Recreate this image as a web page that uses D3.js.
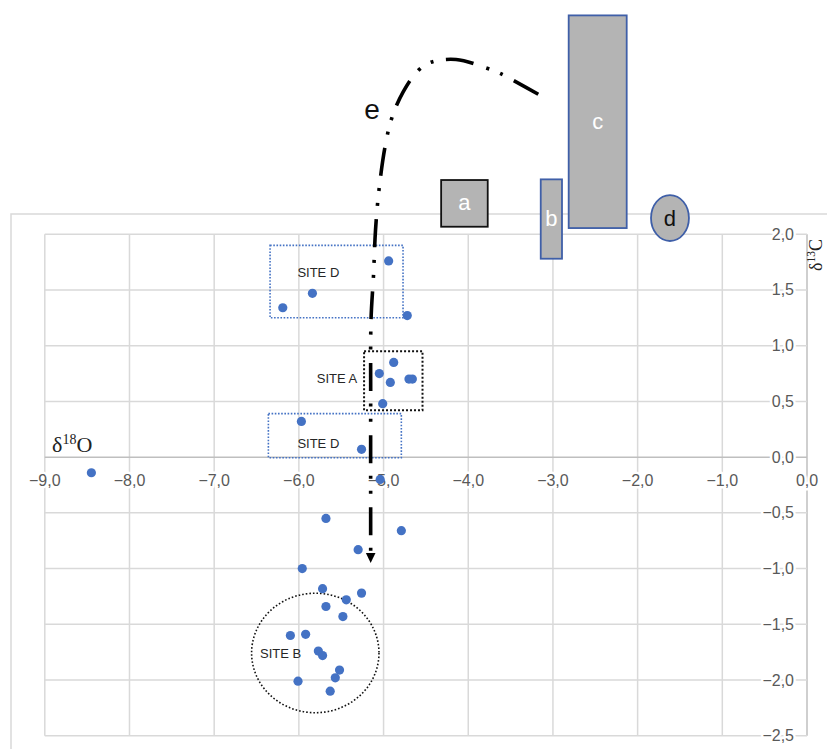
<!DOCTYPE html>
<html>
<head>
<meta charset="utf-8">
<script src="https://cdn.jsdelivr.net/npm/d3@7"></script>
<style>
  html, body { margin: 0; padding: 0; background: #fff; }
  svg { display: block; }
</style>
</head>
<body>
<svg id="chart" width="827" height="749"></svg>
<script>
// ---- data ----
const d18O = [-4.94, -5.84, -6.19, -4.72, -4.88, -5.05, -4.92, -4.70, -4.66, -5.01, -5.97, -5.26,
              -8.45, -5.04, -5.68, -4.79, -5.30, -5.96, -5.72, -5.26, -5.44, -5.68, -5.48,
              -6.10, -5.92, -5.77, -5.72, -5.52, -5.57, -6.01, -5.63];
const d13C = [1.76, 1.47, 1.34, 1.27, 0.85, 0.75, 0.67, 0.70, 0.70, 0.48, 0.32, 0.07,
              -0.14, -0.20, -0.55, -0.66, -0.83, -1.00, -1.18, -1.22, -1.28, -1.34, -1.43,
              -1.60, -1.59, -1.74, -1.78, -1.91, -1.98, -2.01, -2.10];
const xTicks = [-9, -8, -7, -6, -5, -4, -3, -2, -1, 0];
const yTicks = [-2.5, -2.0, -1.5, -1.0, -0.5, 0.0, 0.5, 1.0, 1.5, 2.0];

// site groupings (in data units)
const siteBoxes = [
  {label: "SITE D", x0: -6.34, x1: -4.77, y0: 1.25, y1: 1.90, lx: -5.77, ly: 1.66, kind: "blue"},
  {label: "SITE A", x0: -5.23, x1: -4.54, y0: 0.42, y1: 0.95, lx: -5.55, ly: 0.71, kind: "black"},
  {label: "SITE D", x0: -6.36, x1: -4.79, y0: -0.005, y1: 0.39, lx: -5.77, ly: 0.125, kind: "blue"}
];
const siteB = {label: "SITE B", cx: -5.806, cy: -1.757, rx: 0.752, ry: 0.536, lx: -6.215, ly: -1.76};

// reference ranges a-d (data units)
const refRects = [
  {label: "a", x0: -4.32, x1: -3.77, y0: 2.067, y1: 2.486, border: "black"},
  {label: "b", x0: -3.144, x1: -2.893, y0: 1.780, y1: 2.492, border: "blue"},
  {label: "c", x0: -2.814, x1: -2.129, y0: 2.055, y1: 3.963, border: "blue"}
];
const refEllipse = {label: "d", cx: -1.618, cy: 2.145, rx: 0.224, ry: 0.206};

// trend e (data units)
const trendX = [-3.173, -3.625, -3.794, -4.144, -4.443, -4.590, -4.770, -4.904, -4.983, -5.054, -5.095, -5.119, -5.148, -5.152, -5.152];
const trendY = [3.255, 3.443, 3.493, 3.567, 3.542, 3.470, 3.275, 3.039, 2.782, 2.396, 2.037, 1.625, 1.230, 0.512, -0.851];
const trendLabel = {label: "e", x: -5.136, y: 3.113};

// ---- scales ----
const svg = d3.select("#chart");
const x = d3.scaleLinear().domain([-9, 0]).range([44.8, 807]);
const y = d3.scaleLinear().domain([-2.5, 2]).range([735.8, 234.2]);

const fmt = v => d3.format(".1f")(v).replace(".", ",").replace("-", "\u2212");
const grid = "#d9d9d9";
const blue = "#4472C4";
const edge = "#3f5fa8";
const fillGray = "#b4b4b4";

// outer chart border
svg.append("rect").attr("x", 11).attr("y", 214).attr("width", 900).attr("height", 600)
  .attr("fill", "none").attr("stroke", grid).attr("stroke-width", 1.5);

// gridlines
svg.append("g").selectAll("line").data(xTicks).join("line")
  .attr("x1", d => x(d)).attr("x2", d => x(d))
  .attr("y1", y(2)).attr("y2", y(-2.5))
  .attr("stroke", d => d === 0 ? "#bfbfbf" : grid).attr("stroke-width", 1.5);
svg.append("g").selectAll("line").data(yTicks).join("line")
  .attr("x1", x(-9)).attr("x2", x(0))
  .attr("y1", d => y(d)).attr("y2", d => y(d))
  .attr("stroke", d => d === 0 ? "#bfbfbf" : grid).attr("stroke-width", 1.5);

// tick labels
const labelStyle = sel => sel
  .attr("font-family", "'Liberation Sans', Arial, sans-serif")
  .attr("font-size", 16).attr("fill", "#595959")
  .attr("stroke", "#fff").attr("stroke-width", 5).attr("paint-order", "stroke")
  .attr("stroke-linejoin", "round");
svg.append("g").selectAll("text").data(xTicks).join("text")
  .attr("x", d => x(d)).attr("y", y(0) + 28.5)
  .attr("text-anchor", "middle").text(fmt).call(labelStyle);
svg.append("g").selectAll("text").data(yTicks).join("text")
  .attr("x", x(0) - 13).attr("y", d => y(d) + 5.5)
  .attr("text-anchor", "end").text(fmt).call(labelStyle);

// axis titles
const tx = svg.append("text").attr("x", 52).attr("y", 452)
  .attr("font-family", "'Liberation Serif', 'Times New Roman', serif").attr("font-size", 22).attr("fill", "#222");
tx.append("tspan").text("δ");
tx.append("tspan").attr("font-size", 14).attr("dy", -8).text("18");
tx.append("tspan").attr("dy", 8).text("O");
const ty = svg.append("text").attr("transform", "translate(822,271) rotate(-90)")
  .attr("font-family", "'Liberation Serif', 'Times New Roman', serif").attr("font-size", 18).attr("fill", "#222");
ty.append("tspan").text("δ");
ty.append("tspan").attr("font-size", 11.5).attr("dy", -7).text("13");
ty.append("tspan").attr("dy", 7).text("C");

// site boxes
const siteFont = "'Liberation Sans', Arial, sans-serif";
siteBoxes.forEach(b => {
  svg.append("rect")
    .attr("x", x(b.x0)).attr("y", y(b.y1))
    .attr("width", x(b.x1) - x(b.x0)).attr("height", y(b.y0) - y(b.y1))
    .attr("fill", "none")
    .attr("stroke", b.kind === "blue" ? blue : "#111")
    .attr("stroke-width", b.kind === "blue" ? 1.6 : 2)
    .attr("stroke-dasharray", b.kind === "blue" ? "1.6,1.6" : "2,2");
  svg.append("text").attr("x", x(b.lx)).attr("y", y(b.ly) + 5)
    .attr("text-anchor", "middle").attr("font-family", siteFont)
    .attr("font-size", 13).attr("fill", "#262626").text(b.label);
});
svg.append("ellipse")
  .attr("cx", x(siteB.cx)).attr("cy", y(siteB.cy))
  .attr("rx", x(siteB.rx) - x(0)).attr("ry", y(0) - y(siteB.ry))
  .attr("fill", "none").attr("stroke", "#111").attr("stroke-width", 1.6)
  .attr("stroke-dasharray", "1.6,2");
svg.append("text").attr("x", x(siteB.lx)).attr("y", y(siteB.ly) + 5)
  .attr("text-anchor", "middle").attr("font-family", siteFont)
  .attr("font-size", 13).attr("fill", "#262626").text(siteB.label);

// reference rectangles
refRects.forEach(r => {
  svg.append("rect")
    .attr("x", x(r.x0)).attr("y", y(r.y1))
    .attr("width", x(r.x1) - x(r.x0)).attr("height", y(r.y0) - y(r.y1))
    .attr("fill", fillGray).attr("stroke", r.border === "black" ? "#111" : edge)
    .attr("stroke-width", 1.8);
  svg.append("text").attr("x", (x(r.x0) + x(r.x1)) / 2).attr("y", (y(r.y0) + y(r.y1)) / 2 + 7)
    .attr("text-anchor", "middle").attr("font-family", siteFont)
    .attr("font-size", 22).attr("fill", "#fff").text(r.label);
});
svg.append("ellipse")
  .attr("cx", x(refEllipse.cx)).attr("cy", y(refEllipse.cy))
  .attr("rx", x(refEllipse.rx) - x(0)).attr("ry", y(0) - y(refEllipse.ry))
  .attr("fill", fillGray).attr("stroke", edge).attr("stroke-width", 1.8);
svg.append("text").attr("x", x(refEllipse.cx)).attr("y", y(refEllipse.cy) + 8)
  .attr("text-anchor", "middle").attr("font-family", siteFont)
  .attr("font-size", 22).attr("fill", "#111").text(refEllipse.label);

// data points
svg.append("g").selectAll("circle").data(d18O.map((v, i) => [v, d13C[i]])).join("circle")
  .attr("cx", d => x(d[0])).attr("cy", d => y(d[1])).attr("r", 4.6)
  .attr("fill", blue);

// trend e
const trendPts = trendX.map((v, i) => [x(v), y(trendY[i])]);
svg.append("path")
  .attr("d", d3.line().curve(d3.curveCatmullRom.alpha(0.5))(trendPts))
  .attr("fill", "none").attr("stroke", "#000").attr("stroke-width", 3.6)
  .attr("stroke-dasharray", "28,12.5,3,12,3,13.5");
const last = trendPts[trendPts.length - 1];
const tipY = y(-0.950), baseY = y(-0.860);
svg.append("path")
  .attr("d", `M${last[0] - 4.8},${baseY} L${last[0] + 4.8},${baseY} L${last[0]},${tipY} Z`)
  .attr("fill", "#000");
svg.append("text").attr("x", x(trendLabel.x)).attr("y", y(trendLabel.y) + 9)
  .attr("text-anchor", "middle").attr("font-family", siteFont)
  .attr("font-size", 28).attr("fill", "#111").text(trendLabel.label);
</script>
</body>
</html>
